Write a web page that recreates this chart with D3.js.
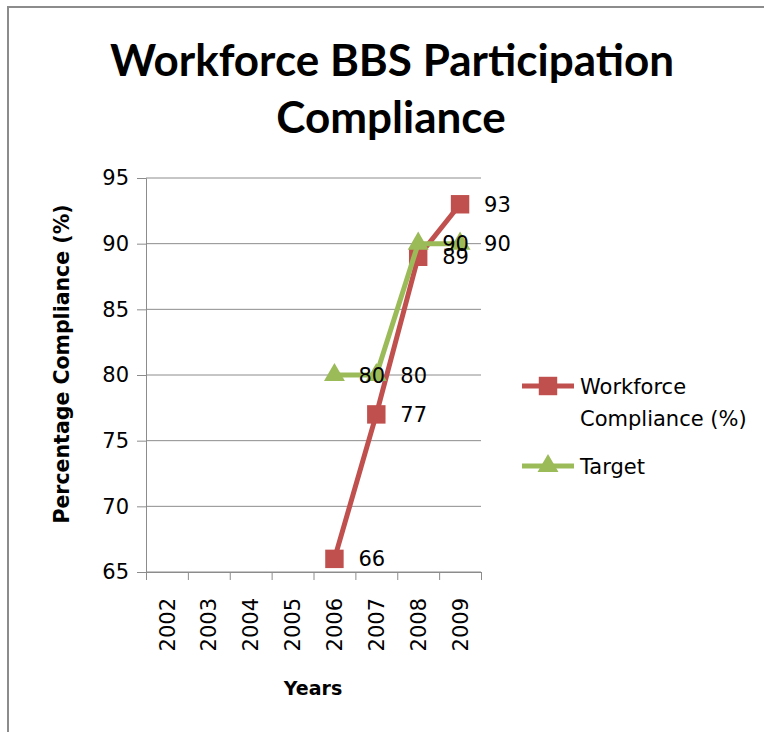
<!DOCTYPE html>
<html>
<head>
<meta charset="utf-8">
<script src="https://cdn.jsdelivr.net/npm/d3@7"></script>
<style>
  body { margin: 0; background: #fff; }
  svg { display: block; }
</style>
</head>
<body>
<svg id="chart"></svg>
<script>
// chart data
const years = ["2002", "2003", "2004", "2005", "2006", "2007", "2008", "2009"];
const workforce = [null, null, null, null, 66, 77, 89, 93];
const target = [null, null, null, null, 80, 80, 90, 90];
const yTicks = [65, 70, 75, 80, 85, 90, 95];

const width = 764;
const height = 732;
const titleFont = "Lato, 'Open Sans', sans-serif";
const font = "'DejaVu Sans', sans-serif";
const red = "#C0504D";
const green = "#9BBB59";
const gridColor = "#8c8c8c";

const svg = d3.select("#chart")
    .attr("width", width)
    .attr("height", height);

// outer chart frame (only top and left edges are in view)
svg.append("rect")
    .attr("x", 8)
    .attr("y", 7)
    .attr("width", 800)
    .attr("height", 800)
    .attr("fill", "none")
    .attr("stroke", gridColor)
    .attr("stroke-width", 2);

const plot = { left: 146, right: 481, top: 178, bottom: 572 };

const x = d3.scaleBand()
    .domain(years)
    .range([plot.left, plot.right]);

const xEdges = d3.scaleLinear()
    .domain([0, years.length])
    .range([plot.left, plot.right]);

const y = d3.scaleLinear()
    .domain([65, 95])
    .range([plot.bottom, plot.top]);

// title
const title = svg.append("text")
    .attr("text-anchor", "middle")
    .attr("font-family", titleFont)
    .attr("font-weight", "bold")
    .attr("font-size", "44px")
    .attr("fill", "#000");
title.append("tspan").attr("x", 392).attr("y", 76).text("Workforce BBS Participation");
title.append("tspan").attr("x", 391).attr("y", 133).text("Compliance");

// horizontal gridlines
svg.append("g")
    .selectAll("line")
    .data(yTicks)
    .join("line")
    .attr("x1", plot.left)
    .attr("x2", plot.right)
    .attr("y1", d => y(d))
    .attr("y2", d => y(d))
    .attr("stroke", gridColor)
    .attr("stroke-width", 1);

// y axis
const yAxis = svg.append("g")
    .attr("transform", `translate(${plot.left},0)`)
    .call(d3.axisLeft(y).tickValues(yTicks).tickSize(9).tickPadding(8));
yAxis.select(".domain").attr("stroke", gridColor);
yAxis.selectAll(".tick line").attr("stroke", gridColor);
yAxis.selectAll(".tick text")
    .attr("font-family", font)
    .attr("font-size", "21px")
    .attr("fill", "#000");

// x axis: ticks on category edges
const xTickAxis = svg.append("g")
    .attr("transform", `translate(0,${plot.bottom})`)
    .call(d3.axisBottom(xEdges).tickValues(d3.range(years.length + 1)).tickSize(8).tickFormat(""));
xTickAxis.select(".domain").attr("stroke", gridColor);
xTickAxis.selectAll(".tick line").attr("stroke", gridColor);

// x axis labels, rotated
const xLabelAxis = svg.append("g")
    .attr("transform", `translate(0,${plot.bottom})`)
    .call(d3.axisBottom(x).tickSize(0));
xLabelAxis.select(".domain").remove();
xLabelAxis.selectAll(".tick text")
    .attr("font-family", font)
    .attr("font-size", "21px")
    .attr("fill", "#000")
    .attr("text-anchor", "end")
    .attr("dy", "0.36em")
    .attr("transform", "translate(0,26) rotate(-90)")
    .attr("x", 0)
    .attr("y", 0);

// axis titles
svg.append("text")
    .attr("transform", "translate(69,364) rotate(-90)")
    .attr("text-anchor", "middle")
    .attr("font-family", font)
    .attr("font-weight", "bold")
    .attr("font-size", "20.5px")
    .attr("fill", "#000")
    .text("Percentage Compliance (%)");

svg.append("text")
    .attr("x", 313)
    .attr("y", 695)
    .attr("text-anchor", "middle")
    .attr("font-family", font)
    .attr("font-weight", "bold")
    .attr("font-size", "19px")
    .attr("fill", "#000")
    .text("Years");

// series
const cx = d => x(d.year) + x.bandwidth() / 2;
const toPoints = vals => years.map((yr, i) => ({ year: yr, value: vals[i] })).filter(d => d.value != null);

const line = d3.line()
    .x(cx)
    .y(d => y(d.value));

const square = d3.symbol().type(d3.symbolSquare).size(340);
const triangle = d3.symbol().type(d3.symbolTriangle).size(190);

function drawSeries(vals, color, symbol) {
    const pts = toPoints(vals);
    const g = svg.append("g");
    g.append("path")
        .attr("d", line(pts))
        .attr("fill", "none")
        .attr("stroke", color)
        .attr("stroke-width", 5)
        .attr("stroke-linejoin", "round");
    g.selectAll(".marker")
        .data(pts)
        .join("path")
        .attr("class", "marker")
        .attr("transform", d => `translate(${cx(d)},${y(d.value)})`)
        .attr("d", symbol)
        .attr("fill", color);
    return pts;
}

const redPts = drawSeries(workforce, red, square);
const greenPts = drawSeries(target, green, triangle);

// data labels
svg.append("g")
    .selectAll("text")
    .data(redPts.concat(greenPts))
    .join("text")
    .attr("x", d => cx(d) + 24)
    .attr("y", d => y(d.value))
    .attr("dy", "0.36em")
    .attr("font-family", font)
    .attr("font-size", "21px")
    .attr("fill", "#000")
    .text(d => d.value);

// legend
const legend = svg.append("g");
const legendItems = [
    { lines: ["Workforce", "Compliance (%)"], color: red, symbol: square, y: 386 },
    { lines: ["Target"], color: green, symbol: triangle, y: 466 }
];
legendItems.forEach(item => {
    legend.append("line")
        .attr("x1", 522)
        .attr("x2", 574)
        .attr("y1", item.y)
        .attr("y2", item.y)
        .attr("stroke", item.color)
        .attr("stroke-width", 5);
    legend.append("path")
        .attr("transform", `translate(548,${item.y})`)
        .attr("d", item.symbol)
        .attr("fill", item.color);
    const t = legend.append("text")
        .attr("font-family", font)
        .attr("font-size", "21px")
        .attr("fill", "#000");
    item.lines.forEach((s, i) => {
        t.append("tspan")
            .attr("x", 580)
            .attr("y", item.y + i * 32)
            .attr("dy", "0.36em")
            .text(s);
    });
});
</script>
</body>
</html>
